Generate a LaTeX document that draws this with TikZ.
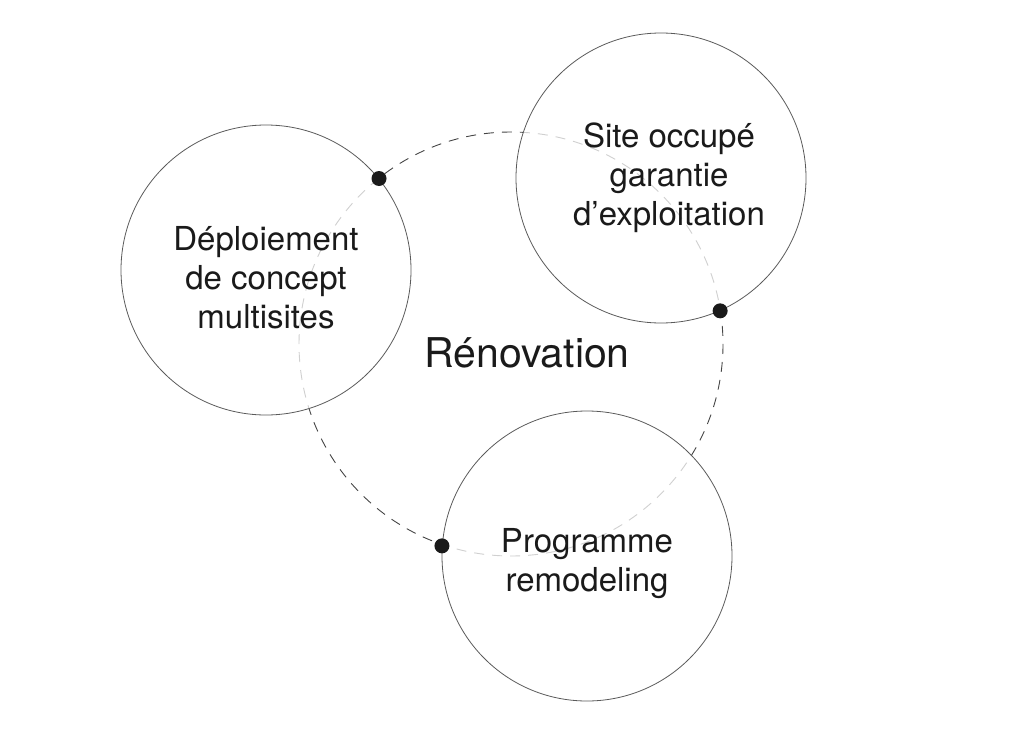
\documentclass[tikz,border=0pt]{standalone}
\usepackage{fontspec}
\setmainfont{TeX Gyre Heros}
\definecolor{ink}{HTML}{1A1A1A}
\definecolor{rim}{HTML}{5A5A5A}
\definecolor{dashgray}{HTML}{444444}
\begin{document}
\begin{tikzpicture}[x=1pt, y=-1pt, font=\fontsize{33}{39}\selectfont, text=ink]
\useasboundingbox (0,0) rectangle (1024,741);
\draw[dashgray, line width=.9pt, dash pattern=on 10pt off 8pt] (511,344) circle[radius=212];
\node[circle, draw=rim, line width=.8pt, fill=white, fill opacity=.75, text opacity=1, minimum size=290pt, inner sep=0pt, align=center] (deploy) at (266,270) {\rule{0pt}{39pt}Déploiement\\de concept\\multisites};
\node[circle, draw=rim, line width=.8pt, fill=white, fill opacity=.75, text opacity=1, minimum size=290pt, inner sep=0pt, align=center] (site) at (661,178) {\hspace*{16pt}Site occupé\\\hspace*{16pt}garantie\\\hspace*{16pt}d’exploitation};
\node[circle, draw=rim, line width=.8pt, fill=white, fill opacity=.75, text opacity=1, minimum size=290pt, inner sep=0pt, align=center] (prog) at (587,556) {\rule{0pt}{40pt}Programme\\remodeling};
\node[font=\fontsize{41}{48}\selectfont] (renov) at (527,353) {Rénovation};
\node[circle, fill=ink, inner sep=0pt, minimum size=15pt] (dot1) at (deploy.39) {};
\node[circle, fill=ink, inner sep=0pt, minimum size=15pt] (dot2) at (site.-66) {};
\node[circle, fill=ink, inner sep=0pt, minimum size=15pt] (dot3) at (prog.176) {};
\end{tikzpicture}
\end{document}
